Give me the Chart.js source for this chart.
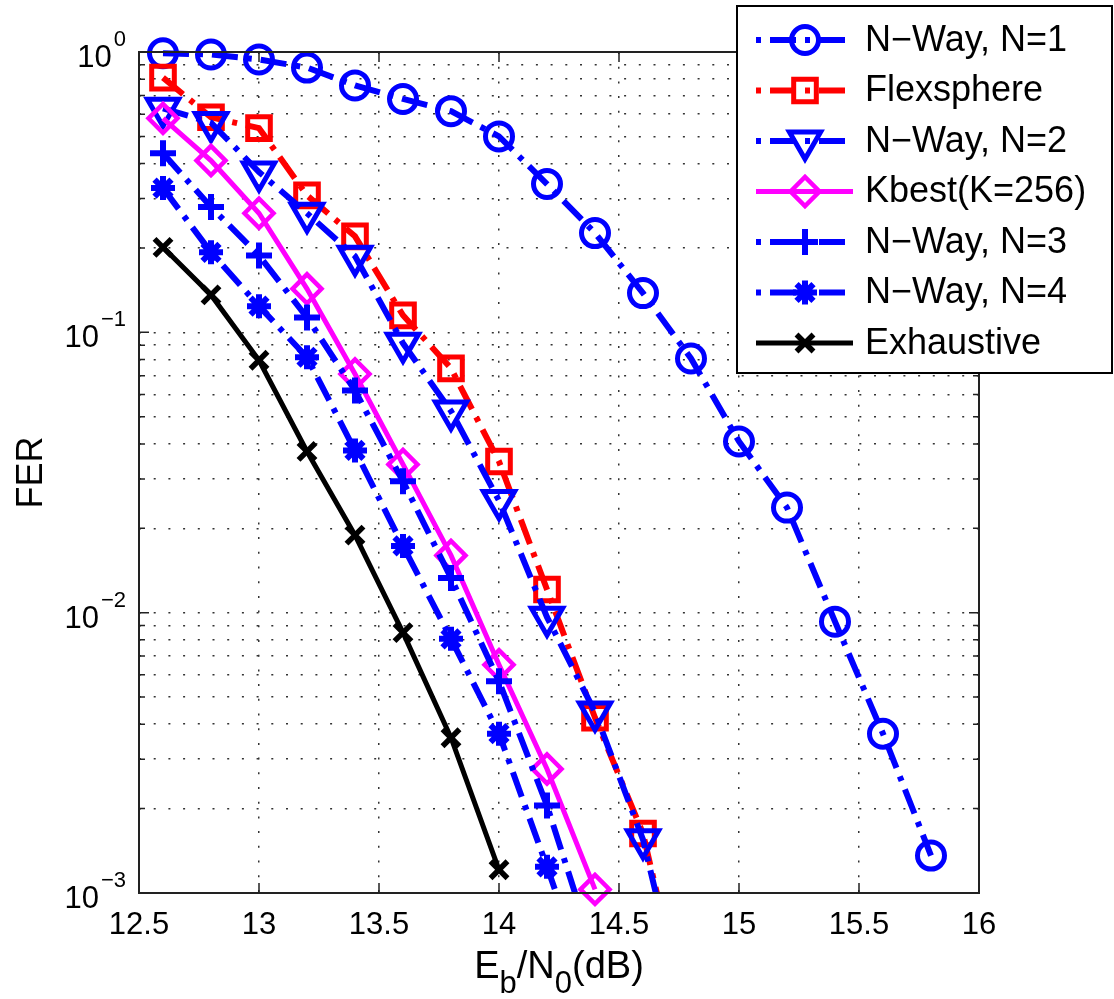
<!DOCTYPE html>
<html>
<head>
<meta charset="utf-8">
<script src="https://cdn.jsdelivr.net/npm/chart.js@4/dist/chart.umd.min.js"></script>
<style>
  html, body { margin: 0; padding: 0; background: #fff; }
  #wrap { width: 1114px; height: 999px; }
</style>
</head>
<body>
<div id="wrap"><canvas id="chart" width="1114" height="999"></canvas></div>
<script>
const FONT = "'Liberation Sans Narrow', 'Arial Narrow', 'Liberation Sans', Arial, sans-serif";

// Eb/N0 in dB
const ebn0 = [12.6, 12.8, 13.0, 13.2, 13.4, 13.6, 13.8, 14.0, 14.2, 14.4, 14.6, 14.8, 15.0, 15.2, 15.4, 15.6, 15.8];

const nway1 = [0.99, 0.98, 0.94, 0.88, 0.76, 0.68, 0.615, 0.50, 0.338, 0.226, 0.138, 0.0807, 0.0408, 0.0237, 0.00929, 0.0037, 0.00136];
const flexsphere = [0.81, 0.585, 0.535, 0.308, 0.22, 0.115, 0.0744, 0.0346, 0.0121, 0.00422, 0.00163, 0.0003];
const nway2 = [0.63, 0.56, 0.373, 0.266, 0.187, 0.0914, 0.0524, 0.0251, 0.00964, 0.00442, 0.00155, 0.0003];
const kbest = [0.58, 0.41, 0.266, 0.143, 0.071, 0.0338, 0.016, 0.00652, 0.00277, 0.00103];
const nway3 = [0.435, 0.28, 0.188, 0.113, 0.062, 0.0294, 0.0133, 0.00569, 0.00205, 0.0006];
const nway4 = [0.327, 0.193, 0.124, 0.0815, 0.0379, 0.0173, 0.00807, 0.0037, 0.00124, 0.0004];
const exhaustive = [0.201, 0.136, 0.0795, 0.0376, 0.0189, 0.00849, 0.00358, 0.00121];

const xTicks = [12.5, 13, 13.5, 14, 14.5, 15, 15.5, 16];
const yDecades = [1e-3, 1e-2, 1e-1, 1];
const yDecadeExps = ["\u22123", "\u22122", "\u22121", "0"];

const BLUE = "#0000ff";
const RED = "#ff0000";
const MAGENTA = "#ff00ff";
const DASHDOT = [26, 9, 5, 9];

function pts(ys) {
  return ys.map((y, i) => ({ x: ebn0[i], y }));
}

function series(label, ys, color, dash, lineW, style, radius, markW, extra) {
  return Object.assign({
    label,
    data: pts(ys),
    borderColor: color,
    borderWidth: lineW,
    borderDash: dash,
    pointStyle: style,
    pointRadius: radius,
    pointBorderWidth: markW,
    pointBorderColor: color,
    pointBackgroundColor: "rgba(0,0,0,0)",
    pointHoverRadius: radius,
    tension: 0,
    fill: false,
    clip: { left: false, top: false, right: false, bottom: 0 },
  }, extra || {});
}

const datasets = [
  series("N\u2212Way, N=1", nway1, BLUE, DASHDOT, 6, "circle", 13.5, 5, { clip: false }),
  series("Flexsphere", flexsphere, RED, DASHDOT, 6, "rect", 16, 5),
  series("N\u2212Way, N=2", nway2, BLUE, DASHDOT, 6, "triangle", 18, 5, { pointRotation: 180 }),
  series("Kbest(K=256)", kbest, MAGENTA, [], 5, "rectRot", 14.5, 4.5, { clip: { left: false, top: false, right: false, bottom: 20 } }),
  series("N\u2212Way, N=3", nway3, BLUE, DASHDOT, 6, "cross", 13, 6),
  series("N\u2212Way, N=4", nway4, BLUE, DASHDOT, 6, "star", 12, 6),
  series("Exhaustive", exhaustive, "#000000", [], 5, "crossRot", 12, 5.5),
];
// later series are painted on top, as in the original figure
datasets.forEach((ds, i) => { ds.order = datasets.length - i; });

// all log ticks 1..9 x 10^k between 1e-3 and 1
const yAllTicks = [];
for (let e = -3; e <= 0; e++) {
  for (let m = 1; m <= 9; m++) {
    const v = m * Math.pow(10, e);
    if (v <= 1.0000001) yAllTicks.push(+v.toPrecision(3));
  }
}

function isDecade(v) {
  return yDecades.some(d => Math.abs(v - d) / d < 1e-6);
}

const frame = {
  id: "frame",
  afterDatasetsDraw(chart) {
    const { ctx, chartArea: a, scales } = chart;
    ctx.save();
    ctx.strokeStyle = "#222";
    ctx.lineWidth = 2;
    ctx.strokeRect(a.left, a.top, a.right - a.left, a.bottom - a.top);
    ctx.lineWidth = 1.5;
    ctx.beginPath();
    scales.y.ticks.forEach(t => {
      const y = scales.y.getPixelForValue(t.value);
      const len = isDecade(t.value) ? 10 : 6;
      ctx.moveTo(a.left, y); ctx.lineTo(a.left + len, y);
      ctx.moveTo(a.right, y); ctx.lineTo(a.right - len, y);
    });
    scales.x.ticks.forEach(t => {
      const x = scales.x.getPixelForValue(t.value);
      ctx.moveTo(x, a.bottom); ctx.lineTo(x, a.bottom - 10);
      ctx.moveTo(x, a.top); ctx.lineTo(x, a.top + 10);
    });
    ctx.stroke();

    // y decade labels 10^k
    ctx.fillStyle = "#000";
    ctx.textBaseline = "alphabetic";
    ctx.textAlign = "right";
    yDecades.forEach((d, i) => {
      const y = scales.y.getPixelForValue(d);
      const right = a.left - 13;
      ctx.font = "22px " + FONT;
      const ew = ctx.measureText(yDecadeExps[i]).width;
      ctx.fillText(yDecadeExps[i], right, y - 6);
      ctx.font = "31px " + FONT;
      ctx.fillText("10", right - ew - 2, y + 15);
    });

    // x axis title with subscripts
    const cx = (a.left + a.right) / 2;
    const parts = [
      { t: "E", sub: false }, { t: "b", sub: true }, { t: "/N", sub: false },
      { t: "0", sub: true }, { t: "(dB)", sub: false },
    ];
    const big = "38px " + FONT, small = "31px " + FONT;
    let total = 0;
    parts.forEach(p => { ctx.font = p.sub ? small : big; p.w = ctx.measureText(p.t).width; total += p.w; });
    let x = cx - total / 2;
    ctx.textAlign = "left";
    parts.forEach(p => {
      ctx.font = p.sub ? small : big;
      ctx.fillText(p.t, x, p.sub ? 993 : 978);
      x += p.w;
    });
    ctx.restore();
  },
};

const legendBox = {
  id: "legendBox",
  afterDraw(chart) {
    const { ctx } = chart;
    const L = 737, T = 6, R = 1112, B = 373;
    ctx.save();
    ctx.fillStyle = "#fff";
    ctx.fillRect(L, T, R - L, B - T);
    ctx.strokeStyle = "#000";
    ctx.lineWidth = 2;
    ctx.strokeRect(L, T, R - L, B - T);
    chart.data.datasets.forEach((ds, i) => {
      const y = 40 + i * 50.5;
      ctx.save();
      ctx.strokeStyle = ds.borderColor;
      ctx.lineWidth = ds.borderWidth;
      ctx.setLineDash(ds.borderDash || []);
      ctx.lineDashOffset = ds.borderDash && ds.borderDash.length ? 35 : 0;
      ctx.beginPath();
      ctx.moveTo(756, y);
      ctx.lineTo(853, y);
      ctx.stroke();
      ctx.setLineDash([]);
      ctx.fillStyle = "rgba(0,0,0,0)";
      ctx.lineWidth = ds.pointBorderWidth;
      if (Chart.helpers && Chart.helpers.drawPoint) {
        Chart.helpers.drawPoint(ctx, {
          pointStyle: ds.pointStyle,
          rotation: ds.pointRotation || 0,
          radius: ds.pointRadius,
          borderWidth: ds.pointBorderWidth,
        }, 805, y);
      }
      ctx.restore();
      ctx.fillStyle = "#000";
      ctx.font = "36px " + FONT;
      ctx.textBaseline = "middle";
      ctx.textAlign = "left";
      ctx.fillText(ds.label, 865, y + 1);
    });
    ctx.restore();
  },
};

new Chart(document.getElementById("chart"), {
  type: "line",
  data: { datasets },
  options: {
    responsive: false,
    animation: false,
    devicePixelRatio: 1,
    layout: { padding: { top: 52, right: 135, left: 0, bottom: 0 } },
    plugins: { legend: { display: false }, tooltip: { enabled: false } },
    scales: {
      x: {
        type: "linear",
        min: 12.5,
        max: 16,
        afterBuildTicks(scale) { scale.ticks = xTicks.map(v => ({ value: v })); },
        afterFit(scale) { scale.height = 106; },
        ticks: {
          color: "#000",
          font: { family: FONT, size: 31 },
          padding: 14,
          maxRotation: 0,
          autoSkip: false,
          callback: v => String(v),
        },
        grid: { color: "#333", lineWidth: 1.5, drawTicks: false },
        border: { display: false, dash: [2, 12.7] },
        title: { display: false },
      },
      y: {
        type: "logarithmic",
        min: 0.001,
        max: 1,
        afterBuildTicks(scale) { scale.ticks = yAllTicks.map(v => ({ value: v })); },
        afterFit(scale) { scale.width = 139; },
        ticks: {
          color: "#000",
          font: { family: FONT, size: 31 },
          padding: 14,
          autoSkip: false,
          callback: () => "",
        },
        grid: { color: "#333", lineWidth: 1.5, drawTicks: false },
        border: { display: false, dash: [2, 12.7] },
        title: {
          display: true,
          text: "FER",
          color: "#000",
          font: { family: FONT, size: 36 },
          padding: { top: 10, bottom: 0 },
        },
      },
    },
  },
  plugins: [frame, legendBox],
});
</script>
</body>
</html>
